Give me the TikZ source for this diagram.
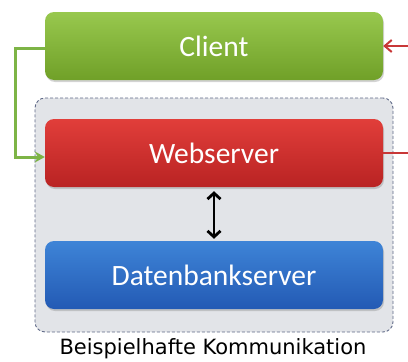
\documentclass[tikz,border=0pt]{standalone}
\usepackage{fontspec}
\setmainfont{Carlito}
\newfontfamily\capfont{DejaVu Sans}
\usetikzlibrary{arrows.meta,shadows,calc}
\definecolor{gtop}{RGB}{152,200,78}
\definecolor{gbot}{RGB}{112,160,40}
\definecolor{rtop}{RGB}{225,62,58}
\definecolor{rbot}{RGB}{185,35,35}
\definecolor{btop}{RGB}{62,132,215}
\definecolor{bbot}{RGB}{35,90,180}
\definecolor{boxgray}{RGB}{226,228,232}
\definecolor{dashc}{RGB}{95,105,135}
\definecolor{greenline}{RGB}{125,180,70}
\definecolor{redline}{RGB}{200,55,55}
\tikzset{
  box/.style={rounded corners=9pt, minimum width=338pt, minimum height=68pt,
    text=white, font=\fontsize{29.5}{32}\selectfont, inner sep=0pt,
    drop shadow={shadow xshift=1pt, shadow yshift=-2pt, opacity=0.35}},
  gline/.style={draw=greenline, line width=3pt, -{Stealth[length=10pt,width=11pt]}},
  rline/.style={draw=redline, line width=2pt},
}
\begin{document}
\begin{tikzpicture}[x=1pt,y=-1pt]
\useasboundingbox (0,0) rectangle (408,362);
\node[draw=dashc, densely dashed, fill=boxgray, rounded corners=10pt, line width=0.9pt,
  minimum width=358pt, minimum height=234pt] (cont) at (214,215) {};
\node[box, top color=gtop, bottom color=gbot] (client) at (214,46) {Client};
\node[box, top color=rtop, bottom color=rbot] (web) at (214,153) {Webserver};
\node[box, top color=btop, bottom color=bbot] (db) at (214,275) {Datenbankserver};
\node[font=\capfont\fontsize{21}{24}\selectfont] (cap) at (213,349) {Beispielhafte Kommunikation};
\coordinate (gl) at (15,48);
\coordinate (rr) at (408,153);
\coordinate (rc) at (408,46);
\draw[gline] ([yshift=-2pt]client.west) -- (gl) |- ([yshift=-4pt]web.west);
\draw[rline] (web.east) -- (rr);
\draw[rline, -{Straight Barb[length=7pt,width=12pt]}] (rc) -- (client.east);
\draw[line width=2.8pt, {Straight Barb[length=6pt,width=13pt]}-{Straight Barb[length=6pt,width=13pt]}] ($(web.south)+(0,4)$) -- ($(db.north)+(0,-2)$);
\end{tikzpicture}
\end{document}
